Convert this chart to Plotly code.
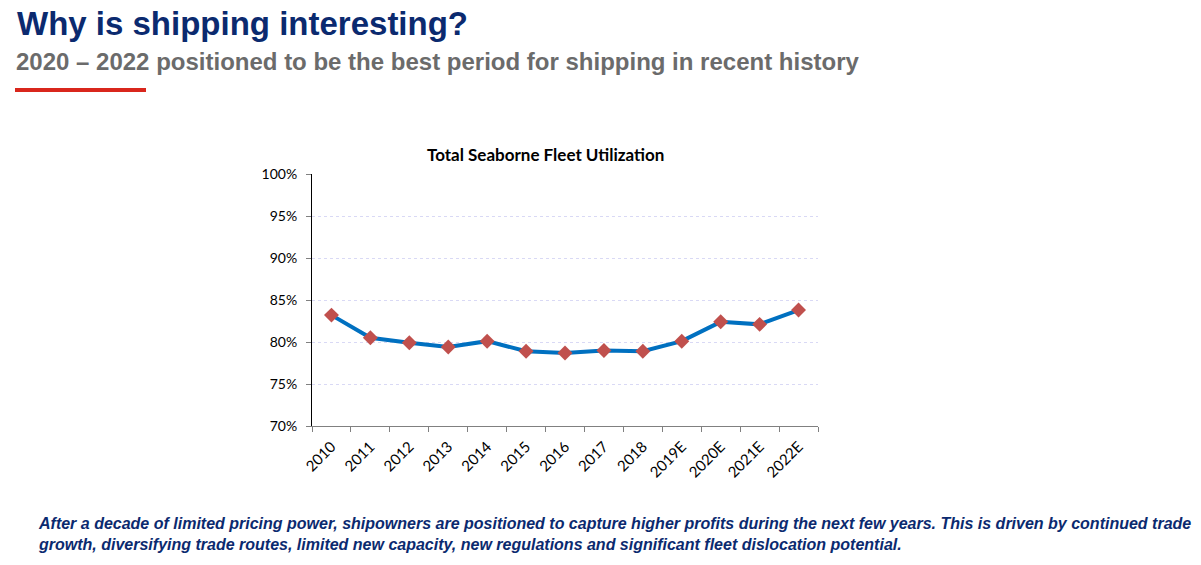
import plotly.graph_objects as go

categories = ["2010", "2011", "2012", "2013", "2014", "2015", "2016", "2017", "2018",
              "2019E", "2020E", "2021E", "2022E"]
utilization = [83.2, 80.5, 79.9, 79.4, 80.1, 78.9, 78.7, 79.0, 78.9, 80.1, 82.4, 82.1, 83.8]
y_ticks = [70, 75, 80, 85, 90, 95, 100]
y_tick_labels = [f"{v}%" for v in y_ticks]

NAVY = "#0b2a6f"
# plot area in page pixels
PL, PR, PT, PB = 312, 818, 174, 426
PW, PH = PR - PL, PB - PT
OFF = 8  # body margin of the page


def px(x):
    return (x - PL) / PW


def py(y):
    return (PB - y) / PH


fig = go.Figure()
fig.add_trace(go.Scatter(
    x=categories, y=utilization, mode="lines+markers",
    line=dict(color="#0070C0", width=4),
    marker=dict(symbol="diamond", size=11.5, color="#C0504D"),
    showlegend=False, hoverinfo="x+y",
))

fig.update_layout(
    width=1201, height=565,
    margin=dict(l=PL - OFF, r=1201 - PR + OFF, t=PT - OFF, b=565 - PB + OFF),
    paper_bgcolor="white", plot_bgcolor="white",
    font=dict(family="Lato, Calibri, sans-serif", color="#000000", size=14),
    xaxis=dict(
        type="category", tickson="boundaries", ticks="outside", ticklen=5,
        tickcolor="#808080", showline=True, linecolor="#808080", linewidth=1,
        showgrid=False, tickangle=-45, tickfont=dict(size=15, family="Lato"),
        range=[-0.5, 12.5], ticklabelstandoff=5,
    ),
    yaxis=dict(
        range=[70, 100], tickvals=y_ticks, ticktext=y_tick_labels,
        ticks="outside", ticklen=5, tickcolor="#808080",
        showline=True, linecolor="#000000", linewidth=1,
        showgrid=True, gridcolor="#d9d9f5", griddash="dot", gridwidth=1,
        tickfont=dict(size=14, family="Lato"), zeroline=False,
        ticklabelstandoff=6,
    ),
)

ann = []
ann.append(dict(text="<b>Why is shipping interesting?</b>", xref="paper", yref="paper",
                x=px(15), y=py(24), xanchor="left", yanchor="middle",
                showarrow=False, font=dict(family="Liberation Sans, Arial", size=33, color=NAVY)))
ann.append(dict(text="<b>2020 – 2022 positioned to be the best period for shipping in recent history</b>",
                xref="paper", yref="paper",
                x=px(14), y=py(61), xanchor="left", yanchor="middle",
                showarrow=False, font=dict(family="Liberation Sans, Arial", size=24, color="#6b6b6b")))
ann.append(dict(text="<b>Total Seaborne Fleet Utilization</b>", xref="paper", yref="paper",
                x=px(545), y=py(154), xanchor="center", yanchor="middle",
                showarrow=False, font=dict(family="Lato, Calibri", size=17, color="#000000")))
ann.append(dict(text="<b><i>After a decade of limited pricing power, shipowners are positioned to capture higher profits during the next few years. This is driven by continued trade<br>growth, diversifying trade routes, limited new capacity, new regulations and significant fleet dislocation potential.</i></b>",
                xref="paper", yref="paper", align="left",
                x=px(36), y=py(534), xanchor="left", yanchor="middle",
                showarrow=False, font=dict(family="Liberation Sans, Arial", size=16, color=NAVY)))
fig.layout.annotations = ann

fig.add_shape(type="line", xref="paper", yref="paper",
              x0=px(15), x1=px(146), y0=py(90), y1=py(90),
              line=dict(color="#d9261c", width=4))

fig.write_html("out.html")
